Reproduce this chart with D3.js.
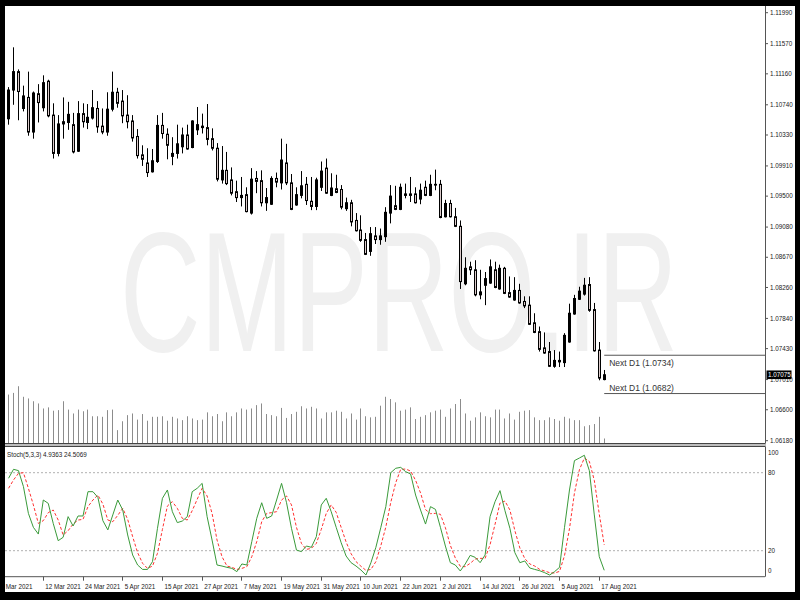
<!DOCTYPE html>
<html><head><meta charset="utf-8">
<script src="https://cdn.jsdelivr.net/npm/d3@7"></script>
<style>html,body{margin:0;padding:0;background:#000;} svg{display:block}</style>
</head><body><svg id="c" width="800" height="600"></svg>
<script>
// ---------------- DATA ----------------
const firstBarDate = "2021-03-03";
const openP  = [1.1055,1.1094,1.1119,1.1069,1.1084,1.1037,1.1089,1.1070,1.1106,1.1060,1.1008,1.1048,1.1050,1.1047,1.1011,1.1062,1.1050,1.1056,1.1069,1.1045,1.1037,1.1068,1.1091,1.1079,1.1060,1.1052,1.1031,1.1006,1.0995,1.0983,1.0997,1.1046,1.1034,1.1004,1.1008,1.1017,1.1033,1.1016,1.1040,1.1045,1.1043,1.1028,1.1015,1.0972,1.0985,1.0972,1.0956,1.0948,1.0952,1.0927,1.0974,1.0971,1.0941,1.0939,1.0974,1.0968,1.0995,1.0968,1.0938,1.0951,1.0966,1.0943,1.0936,1.0962,1.0988,1.0951,1.0960,1.0959,1.0933,1.0941,1.0917,1.0904,1.0891,1.0875,1.0896,1.0891,1.0895,1.0927,1.0937,1.0932,1.0951,1.0953,1.0953,1.0946,1.0962,1.0951,1.0965,1.0966,1.0922,1.0940,1.0922,1.0909,1.0831,1.0854,1.0850,1.0816,1.0829,1.0832,1.0850,1.0824,1.0852,1.0819,1.0809,1.0822,1.0807,1.0802,1.0778,1.0766,1.0744,1.0739,1.0719,1.0725,1.0724,1.0752,1.0790,1.0810,1.0817,1.0830,1.0796,1.0741,1.0701];
const highP  = [1.1098,1.1152,1.1122,1.1100,1.1119,1.1092,1.1102,1.1114,1.1108,1.1076,1.1060,1.1084,1.1078,1.1063,1.1079,1.1076,1.1075,1.1094,1.1079,1.1069,1.1091,1.1119,1.1097,1.1094,1.1087,1.1060,1.1041,1.1019,1.1015,1.1014,1.1060,1.1063,1.1042,1.1030,1.1047,1.1043,1.1047,1.1053,1.1071,1.1062,1.1075,1.1042,1.1022,1.1018,1.1010,1.0989,1.0971,1.0976,1.0962,1.0988,1.0984,1.0985,1.0961,1.0977,1.0982,1.1028,1.1021,1.0980,1.0962,1.0984,1.0976,1.0976,1.0975,1.0997,1.1001,1.0981,1.0979,1.0965,1.0948,1.0945,1.0927,1.0924,1.0900,1.0908,1.0908,1.0906,1.0935,1.0965,1.0964,1.0967,1.0967,1.0976,1.0962,1.0967,1.0971,1.0979,1.0986,1.0972,1.0945,1.0945,1.0934,1.0917,1.0867,1.0861,1.0863,1.0850,1.0847,1.0864,1.0861,1.0857,1.0854,1.0841,1.0840,1.0831,1.0814,1.0814,1.0791,1.0773,1.0765,1.0752,1.0741,1.0739,1.0764,1.0804,1.0816,1.0827,1.0839,1.0840,1.0805,1.0752,1.0714];
const lowP   = [1.1047,1.1074,1.1053,1.1065,1.1032,1.1028,1.1050,1.1065,1.1057,1.1001,1.1004,1.1028,1.1040,1.1008,1.1010,1.1043,1.1041,1.1054,1.1036,1.1034,1.1032,1.1065,1.1070,1.1049,1.1042,1.1024,1.1001,1.0991,1.0976,1.0982,1.0995,1.1028,1.1000,1.0992,1.1001,1.1008,1.1013,1.1015,1.1033,1.1035,1.1019,1.1012,1.0970,1.0967,1.0965,1.0951,1.0942,1.0936,1.0928,1.0925,1.0954,1.0936,1.0930,1.0938,1.0962,1.0959,1.0965,1.0931,1.0937,1.0947,1.0938,1.0931,1.0931,1.0957,1.0953,1.0950,1.0954,1.0932,1.0930,1.0909,1.0902,1.0888,1.0870,1.0869,1.0885,1.0884,1.0888,1.0913,1.0931,1.0931,1.0947,1.0942,1.0940,1.0939,1.0950,1.0950,1.0958,1.0920,1.0921,1.0921,1.0908,1.0824,1.0829,1.0843,1.0814,1.0810,1.0802,1.0831,1.0825,1.0823,1.0817,1.0812,1.0808,1.0804,1.0798,1.0775,1.0764,1.0739,1.0736,1.0718,1.0717,1.0718,1.0718,1.0751,1.0789,1.0809,1.0815,1.0793,1.0739,1.0700,1.0700];
const closeP = [1.1094,1.1119,1.1092,1.1086,1.1037,1.1090,1.1077,1.1104,1.1059,1.1008,1.1048,1.1051,1.1061,1.1010,1.1062,1.1051,1.1057,1.1070,1.1044,1.1037,1.1068,1.1091,1.1076,1.1059,1.1051,1.1029,1.1005,1.1000,1.0982,1.0998,1.1046,1.1035,1.1019,1.1008,1.1021,1.1033,1.1014,1.1052,1.1047,1.1043,1.1027,1.1015,1.0973,1.0985,1.0967,1.0954,1.0948,1.0951,1.0929,1.0973,1.0970,1.0941,1.0948,1.0974,1.0969,1.0999,1.0968,1.0932,1.0952,1.0964,1.0944,1.0936,1.0972,1.0984,1.0954,1.0961,1.0955,1.0935,1.0941,1.0915,1.0903,1.0890,1.0871,1.0899,1.0891,1.0896,1.0928,1.0950,1.0932,1.0962,1.0953,1.0951,1.0941,1.0958,1.0951,1.0966,1.0966,1.0921,1.0940,1.0922,1.0909,1.0834,1.0852,1.0850,1.0816,1.0820,1.0838,1.0854,1.0826,1.0852,1.0818,1.0813,1.0822,1.0805,1.0801,1.0776,1.0765,1.0742,1.0737,1.0719,1.0727,1.0727,1.0761,1.0791,1.0811,1.0821,1.0829,1.0795,1.0740,1.0703,1.07075];
const volume = [88,91,103,84,81,76,72,63,65,59,60,76,61,54,61,58,61,49,49,48,60,61,24,40,51,54,43,53,41,48,48,49,41,48,45,42,49,45,42,43,56,49,53,40,56,49,56,63,61,63,69,72,53,51,49,64,46,53,57,67,63,66,63,45,56,56,59,57,45,54,43,63,49,47,48,68,84,80,74,59,61,65,44,48,51,56,59,61,48,63,71,80,54,41,47,56,49,47,61,61,45,54,43,57,59,60,47,42,42,47,44,41,48,45,42,42,31,33,35,48,9];
const stochMain = [75.7,82.6,81.6,69.3,48.7,38.0,32.8,59.0,56.4,41.0,27.7,30.3,46.2,39.0,46.7,46.7,65.4,65.4,61.0,43.1,36.0,47.5,59.0,51.3,32.1,16.7,9.0,5.6,5.6,11.6,37.2,60.3,66.7,50.0,41.6,42.8,46.2,65.4,68.0,71.8,46.2,28.2,9.0,8.2,7.2,6.4,3.9,9.8,9.0,27.0,44.9,56.9,44.9,46.7,59.0,71.8,56.9,37.2,20.5,19.3,23.6,22.6,30.8,55.2,60.3,50.0,38.0,26.2,15.9,10.8,8.2,5.1,1.3,10.8,22.6,38.0,53.9,80.0,83.4,84.1,80.8,79.0,62.8,51.3,40.5,53.9,51.8,38.0,23.6,10.8,9.0,4.4,9.8,16.4,14.9,10.8,16.7,46.2,57.7,66.2,50.8,37.2,18.5,10.8,12.1,6.7,5.6,4.6,3.1,1.3,3.9,7.2,38.0,66.7,89.3,91.3,93.4,81.6,47.5,15.4,4.9363];
const stochSignal = [68.0,74.4,79.5,80.0,68.0,55.2,41.0,43.1,49.3,51.3,43.6,32.1,35.4,40.5,43.6,44.1,53.9,59.0,62.8,55.9,43.6,42.3,47.2,52.6,44.1,30.8,18.5,10.3,6.4,8.2,18.0,36.4,54.4,57.7,52.6,44.9,43.6,50.8,59.5,68.0,62.1,48.7,28.2,15.4,8.2,7.2,5.6,6.4,7.7,15.4,27.0,42.3,48.7,49.3,50.0,59.0,62.1,55.2,38.0,25.6,21.0,21.8,25.6,36.4,48.7,55.2,49.5,38.0,26.7,17.7,11.6,8.0,4.9,5.6,11.6,23.9,38.2,57.2,72.3,82.6,82.8,81.3,74.1,64.4,51.6,48.5,48.7,48.0,37.7,24.1,14.4,8.0,7.7,10.3,13.6,14.1,14.1,24.6,40.3,56.7,58.2,51.3,35.4,22.1,13.9,9.8,8.2,5.6,4.4,3.1,2.8,4.1,16.2,36.9,64.4,82.3,91.3,88.7,74.1,48.2,24.5069];
const priceTicks = [1.11990,1.11570,1.11160,1.10740,1.10330,1.09910,1.09500,1.09080,1.08670,1.08260,1.07840,1.07430,1.07010,1.06600,1.06180];
const dateTicks = ["1 Mar 2021","12 Mar 2021","24 Mar 2021","5 Apr 2021","15 Apr 2021","27 Apr 2021","7 May 2021","19 May 2021","31 May 2021","10 Jun 2021","22 Jun 2021","2 Jul 2021","14 Jul 2021","26 Jul 2021","5 Aug 2021","17 Aug 2021"];
const stochLevels = [80, 20];
const stochAxisLabels = [100, 80, 20, 0];
const currentPrice = 1.07075;
const nextD1 = [1.0734, 1.0682];
const stochTitle = "Stoch(5,3,3) 4.9363 24.5069";
const watermark = "CMPRO.IR";

// ---------------- LAYOUT ----------------
const W = 800, H = 600;
const L = 5, R = 765, T = 6, B = 592;
const mainBottom = 443.5, subTop = 446.5, subBottom = 576.7;
const FONT = "'Liberation Sans', Arial, sans-serif";

const svg = d3.select("#c");
svg.append("rect").attr("width", W).attr("height", H).attr("fill", "#000");
svg.append("rect").attr("x", L).attr("y", T).attr("width", 795 - L).attr("height", B - T).attr("fill", "#fff");

const n = closeP.length;
const x = d3.scaleLinear().domain([0, n - 1]).range([8.55, 8.55 + 4.964 * (n - 1)]);
const y = d3.scaleLinear().domain([1.0618, 1.1199]).range([440.7, 12.7]);
const yv = d3.scaleLinear().domain([0, 100]).range([mainBottom, mainBottom - 55.6]);
const ys = d3.scaleLinear().domain([0, 100]).range([subBottom, subTop + 0.2]);

// trading-day index relative to first bar
const parseLbl = d3.timeParse("%d %b %Y");
const start = d3.timeParse("%Y-%m-%d")(firstBarDate);
function tradeIndex(d) {
  if (d >= start) return d3.timeDays(d3.timeDay.offset(start, 1), d3.timeDay.offset(d, 1)).filter(q => q.getDay() % 6 !== 0).length;
  return -d3.timeDays(d, start).filter(q => q.getDay() % 6 !== 0).length;
}

const defs = svg.append("defs");
defs.append("clipPath").attr("id", "cm").append("rect").attr("x", L).attr("y", T).attr("width", R - L).attr("height", mainBottom - T);
defs.append("clipPath").attr("id", "cs").append("rect").attr("x", L).attr("y", subTop).attr("width", R - L).attr("height", subBottom - subTop);

// watermark (not clipped, lies inside the main window)
svg.append("text").attr("x", 120).attr("y", 350.7).attr("font-family", FONT).attr("font-size", 170)
  .attr("textLength", 558).attr("lengthAdjust", "spacingAndGlyphs")
  .attr("fill", "#f0f0f0").text(watermark);

const gm = svg.append("g").attr("clip-path", "url(#cm)");
// volumes
gm.selectAll("line.vol").data(volume).join("line").attr("class", "vol")
  .attr("x1", (d, i) => Math.floor(x(i)) + 0.5).attr("x2", (d, i) => Math.floor(x(i)) + 0.5)
  .attr("y1", yv(0)).attr("y2", d => yv(d)).attr("stroke", "#8c8c8c").attr("stroke-width", 1);

// candles
const bars = d3.range(n).map(i => ({ i, o: openP[i], h: highP[i], l: lowP[i], c: closeP[i] }));
const cg = gm.selectAll("g.c").data(bars).join("g").attr("class", "c");
cg.append("line").attr("x1", d => Math.floor(x(d.i)) + 0.5).attr("x2", d => Math.floor(x(d.i)) + 0.5)
  .attr("y1", d => y(d.h)).attr("y2", d => y(d.l)).attr("stroke", "#000").attr("stroke-width", 1);
cg.append("rect").attr("x", d => Math.floor(x(d.i)) - 0.5).attr("width", 2)
  .attr("y", d => y(Math.max(d.o, d.c))).attr("height", d => Math.max(0.6, Math.abs(y(d.o) - y(d.c))))
  .attr("fill", d => d.c > d.o ? "#000" : "#dccccc").attr("stroke", "#000").attr("stroke-width", 1);

// Next D1 lines
nextD1.forEach((p, k) => {
  gm.append("line").attr("x1", x(n - 1)).attr("x2", R).attr("y1", y(p)).attr("y2", y(p)).attr("stroke", "#555").attr("stroke-width", 1);
  svg.append("text").attr("x", x(n - 1) + 5).attr("y", y(p) + (k === 0 ? 10.5 : -3))
    .attr("font-family", FONT).attr("font-size", 8.5).attr("fill", "#333").text(`Next D1 (${p.toFixed(4)})`);
});

// price axis
svg.append("line").attr("x1", R + 0.5).attr("x2", R + 0.5).attr("y1", T).attr("y2", subBottom).attr("stroke", "#555");
const pa = svg.append("g");
priceTicks.forEach(p => {
  pa.append("line").attr("x1", R).attr("x2", R + 3).attr("y1", y(p)).attr("y2", y(p)).attr("stroke", "#555");
  pa.append("text").attr("x", R + 5).attr("y", y(p) + 2.2).attr("font-family", FONT).attr("font-size", 6.3).attr("fill", "#222").text(p.toFixed(5));
});
pa.append("rect").attr("x", R + 1.5).attr("y", y(currentPrice) - 4.3).attr("width", 25).attr("height", 8.6).attr("fill", "#000");
pa.append("text").attr("x", R + 3).attr("y", y(currentPrice) + 2.3).attr("font-family", FONT).attr("font-size", 6.3).attr("fill", "#fff").text(currentPrice.toFixed(5));

// separator
svg.append("rect").attr("x", L).attr("y", mainBottom).attr("width", R - L + 1).attr("height", subTop - mainBottom).attr("fill", "#bdbdbd");
svg.append("line").attr("x1", L).attr("x2", R).attr("y1", mainBottom).attr("y2", mainBottom).attr("stroke", "#444");
svg.append("line").attr("x1", L).attr("x2", R).attr("y1", subTop).attr("y2", subTop).attr("stroke", "#444");

// stochastic window
const gs = svg.append("g").attr("clip-path", "url(#cs)");
stochLevels.forEach(v => gs.append("line").attr("x1", L).attr("x2", R).attr("y1", ys(v)).attr("y2", ys(v))
  .attr("stroke", "#b0b0b0").attr("stroke-dasharray", "2,2"));
const line = d3.line().x((d, i) => x(i)).y(d => ys(d));
gs.append("path").datum(stochSignal).attr("d", line).attr("fill", "none").attr("stroke", "#ff3030").attr("stroke-width", 1).attr("stroke-dasharray", "3,2");
gs.append("path").datum(stochMain).attr("d", line).attr("fill", "none").attr("stroke", "#3a9a3a").attr("stroke-width", 1);
svg.append("text").attr("x", 7).attr("y", 457).attr("font-family", FONT).attr("font-size", 6.3).attr("fill", "#222").text(stochTitle);
stochAxisLabels.forEach(v => {
  const yy = Math.min(571, Math.max(452.7, ys(v)));
  svg.append("text").attr("x", R + 3).attr("y", yy + 2.2).attr("font-family", FONT).attr("font-size", 6.3).attr("fill", "#222").text(v);
});
svg.append("line").attr("x1", L).attr("x2", R).attr("y1", subBottom).attr("y2", subBottom).attr("stroke", "#555");

// date axis
const da = svg.append("g");
dateTicks.forEach(s => {
  const xi = x(tradeIndex(parseLbl(s)));
  da.append("line").attr("x1", Math.floor(xi) + 0.5).attr("x2", Math.floor(xi) + 0.5).attr("y1", subBottom).attr("y2", subBottom + 4).attr("stroke", "#555");
  da.append("text").attr("x", xi + 2).attr("y", 589).attr("font-family", FONT).attr("font-size", 6.3).attr("fill", "#222").text(s);
});

// black frame on top
svg.append("rect").attr("x", 0).attr("y", 0).attr("width", W).attr("height", T).attr("fill", "#000");
svg.append("rect").attr("x", 0).attr("y", 0).attr("width", L).attr("height", H).attr("fill", "#000");
svg.append("rect").attr("x", 795).attr("y", 0).attr("width", 5).attr("height", H).attr("fill", "#000");
svg.append("rect").attr("x", 0).attr("y", B).attr("width", W).attr("height", H - B).attr("fill", "#000");
</script></body></html>
